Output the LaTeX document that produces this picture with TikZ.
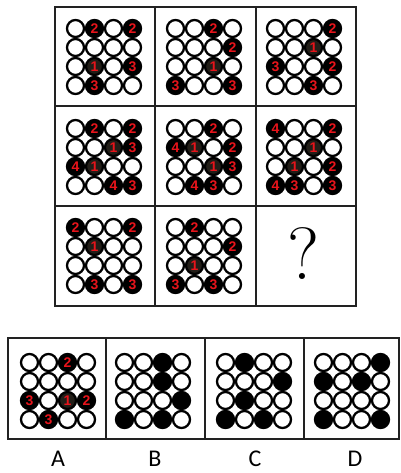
\documentclass[tikz,border=0pt]{standalone}
\usepackage{fontspec}
\newfontfamily\numfont{Liberation Sans}
\newfontfamily\labfont{Carlito}
\definecolor{numred}{HTML}{E8141B}
\definecolor{onefill}{HTML}{221E18}
\definecolor{framecol}{HTML}{222222}
\tikzset{
  dot/.style={circle, draw=black, line width=2.3pt, minimum size=17pt, inner sep=0pt,
    font=\numfont\bfseries\fontsize{14}{14}\selectfont, text=numred},
  cw/.style={dot, fill=white},
  cb/.style={dot, fill=black},
  c1/.style={dot, fill=onefill},
  c2/.style={dot, fill=black},
  c3/.style={dot, fill=black},
  c4/.style={dot, fill=black},
  frame/.style={draw=framecol, line width=1.8pt},
  lab/.style={font=\labfont\fontsize{24}{24}\selectfont, text=black, inner sep=0pt},
}
\def\dotlabel#1{\if w#1\else\if b#1\else #1\fi\fi}
\newcommand\dotgrid[4]{%
  \foreach \v [count=\i from 0] in {#4} {
    \pgfmathtruncatemacro\rr{floor(\i/4)}
    \pgfmathtruncatemacro\cc{mod(\i,4)}
    \node[c\v] (#1-\rr-\cc) at ({#2+(\cc-1.5)*19},{#3+(\rr-1.5)*19}) {\dotlabel{\v}};
  }
}
\begin{document}
\begin{tikzpicture}[x=1pt,y=-1pt]
\fill[white] (0,0) rectangle (400,473);
\useasboundingbox (0,0) rectangle (400,473);
% main 3x3 frame
\draw[frame] (55,7) rectangle (356,306);
\draw[frame] (155,7) -- (155,306);
\draw[frame] (256,7) -- (256,306);
\draw[frame] (55,106) -- (356,106);
\draw[frame] (55,206) -- (356,206);
% answer frame
\draw[frame] (8,338) rectangle (399,439);
\draw[frame] (106,338) -- (106,439);
\draw[frame] (205,338) -- (205,439);
\draw[frame] (304,338) -- (304,439);
% row 1
\dotgrid{g11}{104}{57}{w,2,w,2, w,w,w,w, w,1,w,3, w,3,w,w}
\dotgrid{g12}{204}{57}{w,w,2,w, w,w,w,2, w,w,1,w, 3,w,w,3}
\dotgrid{g13}{304}{57}{w,w,w,2, w,w,1,w, 3,w,w,2, w,w,3,w}
% row 2
\dotgrid{g21}{104}{157}{w,2,w,2, w,w,1,3, 4,1,w,w, w,w,4,3}
\dotgrid{g22}{204}{157}{w,w,2,w, 4,1,w,2, w,w,1,3, w,4,3,w}
\dotgrid{g23}{304}{157}{4,w,w,2, w,w,1,w, w,1,w,2, 4,3,w,3}
% row 3
\dotgrid{g31}{104}{256}{2,w,w,2, w,1,w,w, w,w,w,w, w,3,w,3}
\dotgrid{g32}{204}{256}{w,2,w,w, w,w,w,2, w,1,w,w, 3,w,3,w}
\node (q) at (304,254) {\fontsize{74}{74}\selectfont ?};
% answers
\dotgrid{ga}{58}{391}{w,w,2,w, w,w,w,w, 3,w,1,2, w,3,w,w}
\dotgrid{gb}{153}{391}{w,w,b,w, w,w,b,w, w,w,w,b, b,w,b,w}
\dotgrid{gc}{254}{391}{w,b,w,w, w,w,w,b, w,b,w,w, b,w,b,w}
\dotgrid{gd}{352}{391}{w,w,w,b, b,w,b,w, w,w,w,w, b,w,w,b}
% labels
\node[lab] (la) at (58,459) {A};
\node[lab] (lb) at (155,459) {B};
\node[lab] (lc) at (255,459) {C};
\node[lab] (ld) at (355,459) {D};
\end{tikzpicture}
\end{document}
